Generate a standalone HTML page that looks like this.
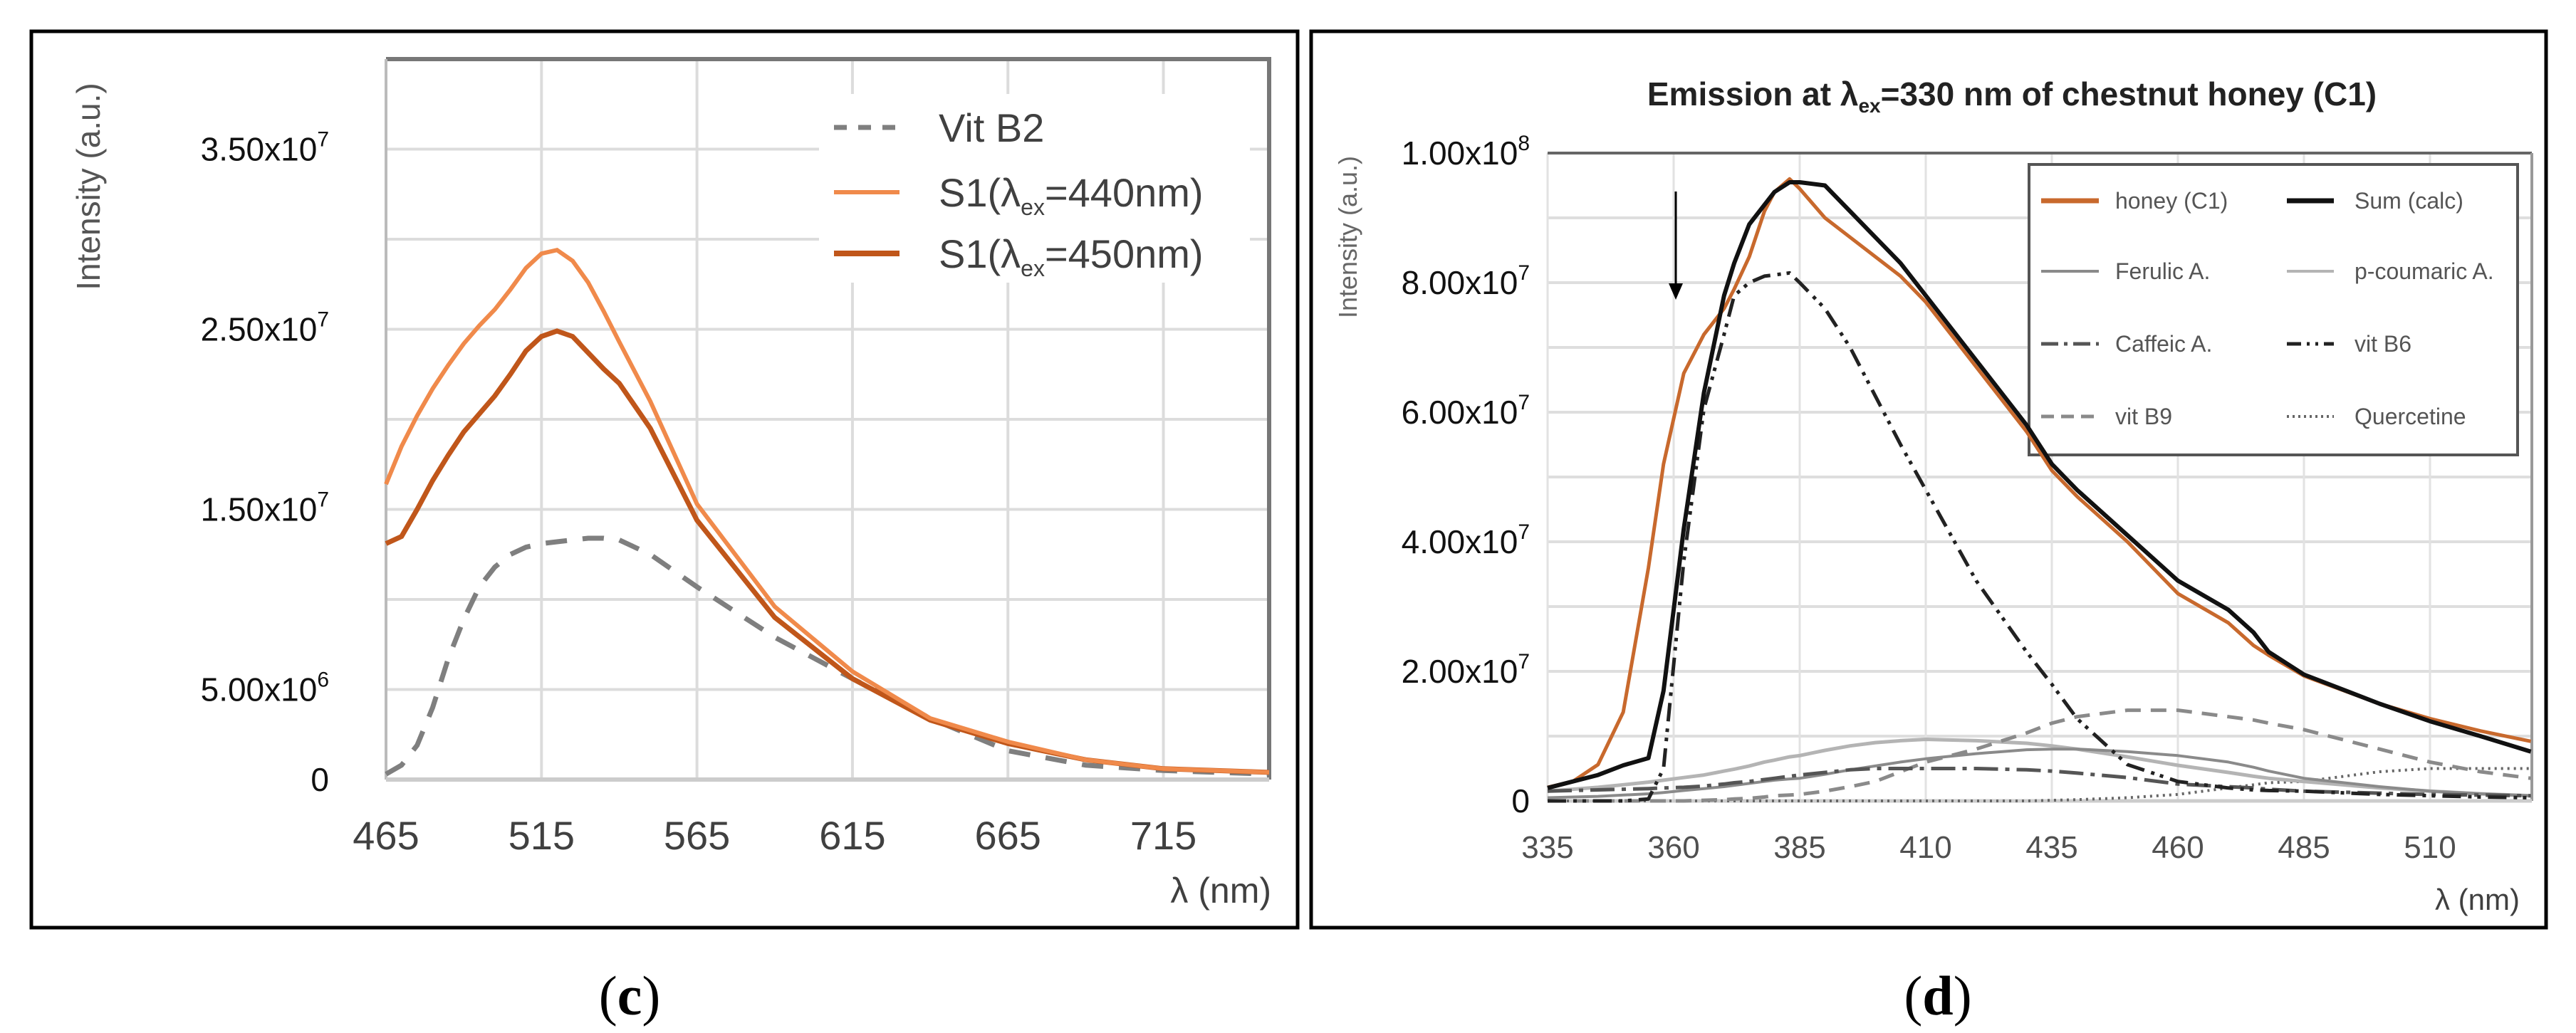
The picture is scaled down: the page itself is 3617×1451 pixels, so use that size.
<!DOCTYPE html>
<html><head><meta charset="utf-8"><style>
html,body{margin:0;padding:0;background:#fff}
svg{display:block}
text{font-family:"Liberation Sans Narrow","Liberation Sans",sans-serif}
</style></head><body>
<svg id="fig" xmlns="http://www.w3.org/2000/svg" width="3617" height="1451" viewBox="0 0 3617 1451">
<rect width="3617" height="1451" fill="#fff"/>
<rect x="44" y="44" width="1778" height="1259" fill="none" stroke="#000" stroke-width="5"/>
<rect x="1841" y="44" width="1734" height="1259" fill="none" stroke="#000" stroke-width="5"/>
<g id="gc"></g>
<g id="gd"></g>
<text x="884" y="1425" font-family="Liberation Serif" font-size="78" text-anchor="middle" style="font-family:'Liberation Serif',serif">(<tspan font-weight="bold">c</tspan>)</text>
<text x="2721" y="1425" font-size="78" text-anchor="middle" style="font-family:'Liberation Serif',serif">(<tspan font-weight="bold">d</tspan>)</text>
</svg>
<script>
// ---------- Chart C data ----------
const cX = [465,470,475,480,485,490,495,500,505,510,515,520,525,530,535,540,550,565,590,615,640,665,690,715,749];
const cS440 = [1.64e7,1.85e7,2.02e7,2.17e7,2.3e7,2.42e7,2.52e7,2.61e7,2.72e7,2.84e7,2.92e7,2.94e7,2.88e7,2.76e7,2.6e7,2.43e7,2.1e7,1.53e7,9.6e6,6.0e6,3.4e6,2.1e6,1.1e6,6e5,4e5];
const cS450 = [1.31e7,1.35e7,1.5e7,1.66e7,1.8e7,1.93e7,2.03e7,2.13e7,2.25e7,2.38e7,2.46e7,2.49e7,2.46e7,2.37e7,2.28e7,2.2e7,1.95e7,1.44e7,9.0e6,5.6e6,3.3e6,2.0e6,1.1e6,6e5,4e5];
const cB2 = [3e5,8e5,1.9e6,4e6,6.7e6,8.9e6,1.07e7,1.18e7,1.25e7,1.29e7,1.31e7,1.32e7,1.33e7,1.34e7,1.34e7,1.33e7,1.25e7,1.07e7,7.9e6,5.6e6,3.4e6,1.6e6,8e5,5e5,3e5];
const cYTicks = [0,5e6,1.5e7,2.5e7,3.5e7];
const cYLabels = ["0","5.00x10|6","1.50x10|7","2.50x10|7","3.50x10|7"];
const cXTicks = [465,515,565,615,665,715];
// ---------- Chart D data ----------
const dX = [335,340,345,350,355,358,362,366,370,372,375,378,380,383,385,390,395,400,405,410,420,430,435,440,450,460,470,475,478,485,500,510,520,530];
const dHoney = [2.1e6,3e6,5.6e6,1.37e7,3.6e7,5.2e7,6.6e7,7.2e7,7.6e7,7.9e7,8.4e7,9.1e7,9.4e7,9.6e7,9.45e7,9.0e7,8.7e7,8.4e7,8.1e7,7.7e7,6.7e7,5.7e7,5.1e7,4.7e7,4.0e7,3.2e7,2.75e7,2.4e7,2.25e7,1.93e7,1.5e7,1.27e7,1.08e7,9.2e6];
const dSum = [2e6,3e6,4e6,5.5e6,6.6e6,1.7e7,4.2e7,6.3e7,7.8e7,8.3e7,8.9e7,9.2e7,9.4e7,9.55e7,9.55e7,9.5e7,9.1e7,8.7e7,8.3e7,7.8e7,6.8e7,5.8e7,5.2e7,4.8e7,4.1e7,3.4e7,2.95e7,2.6e7,2.3e7,1.95e7,1.5e7,1.23e7,1.0e7,7.6e6];
const dB6 = [0,0,0,0,3e5,5e6,3.7e7,6.05e7,7.2e7,7.8e7,8.0e7,8.1e7,8.12e7,8.15e7,8.0e7,7.6e7,7.0e7,6.25e7,5.5e7,4.8e7,3.4e7,2.3e7,1.8e7,1.27e7,5.6e6,3e6,2e6,1.7e6,1.6e6,1.5e6,1e6,8e5,6e5,5e5];
const dCaffeic = [1.5e6,1.6e6,1.7e6,1.8e6,1.9e6,2e6,2.1e6,2.3e6,2.6e6,2.8e6,3e6,3.3e6,3.5e6,3.8e6,4e6,4.4e6,4.8e6,5e6,5e6,5e6,5e6,4.8e6,4.6e6,4.3e6,3.6e6,2.6e6,2.2e6,2e6,1.8e6,1.5e6,1.2e6,1e6,9e5,8e5];
const dFerulic = [5e5,6e5,7e5,9e5,1.1e6,1.3e6,1.6e6,1.9e6,2.2e6,2.4e6,2.7e6,3e6,3.2e6,3.4e6,3.5e6,4.1e6,4.8e6,5.4e6,6e6,6.5e6,7.3e6,7.9e6,8e6,8e6,7.6e6,7e6,6e6,5.2e6,4.6e6,3.5e6,2.2e6,1.5e6,1.1e6,8e5];
const dCoumaric = [1.5e6,1.8e6,2.1e6,2.5e6,2.9e6,3.2e6,3.6e6,4e6,4.6e6,4.9e6,5.4e6,6e6,6.3e6,6.8e6,7e6,7.8e6,8.5e6,9e6,9.3e6,9.5e6,9.3e6,8.9e6,8.5e6,8e6,6.8e6,5.5e6,4.4e6,3.8e6,3.5e6,3e6,2e6,1.5e6,1.1e6,8e5];
const dB9 = [0,0,0,0,0,0,0,1e5,2e5,3e5,4e5,6e5,8e5,9e5,1e6,1.5e6,2.2e6,3e6,4.5e6,6e6,8e6,1.05e7,1.2e7,1.3e7,1.4e7,1.4e7,1.3e7,1.25e7,1.2e7,1.1e7,8e6,6e6,4.5e6,3.5e6];
const dQuer = [0,0,0,0,0,0,0,0,0,0,0,0,0,0,0,0,0,0,0,0,0,0,1e5,2e5,5e5,1e6,2e6,2.5e6,2.8e6,3e6,4.5e6,5e6,5e6,5e6];
const dYTicks = [0,2e7,4e7,6e7,8e7,1e8];
const dYLabels = ["0","2.00x10|7","4.00x10|7","6.00x10|7","8.00x10|7","1.00x10|8"];
const dXTicks = [335,360,385,410,435,460,485,510];

const NS="http://www.w3.org/2000/svg";
function mk(parent,tag,attrs){const e=document.createElementNS(NS,tag);for(const k in attrs)e.setAttribute(k,attrs[k]);parent.appendChild(e);return e;}
function path(xs,ys,xf,yf){return xs.map((x,i)=>(i?'L':'M')+xf(x).toFixed(1)+' '+yf(ys[i]).toFixed(1)).join(' ');}

// ===== Chart C =====
const gc=document.getElementById('gc');
const cx=v=>542+(v-465)*(1240/284);
const cy=v=>1095-v/4e7*1012;
for(let v=0;v<=4e7;v+=5e6){const l=mk(gc,'line',{x1:542,x2:1782,y1:cy(v),y2:cy(v),stroke:'#dcdcdc','stroke-width':4});

}
cXTicks.forEach(t=>{const l=mk(gc,'line',{x1:cx(t),x2:cx(t),y1:83,y2:1095,stroke:'#dcdcdc','stroke-width':4});

});
mk(gc,'path',{d:'M542 83 H1782 V1095',fill:'none',stroke:'#777','stroke-width':6});
mk(gc,'line',{x1:542,x2:542,y1:83,y2:1095,stroke:'#bbb','stroke-width':4});
mk(gc,'line',{x1:542,x2:1782,y1:1095,y2:1095,stroke:'#ccc','stroke-width':6});
// legend background
mk(gc,'rect',{x:1150,y:132,width:605,height:265,fill:'#fff'});
// series
let p;
p=mk(gc,'path',{d:path(cX,cB2,cx,cy),fill:'none',stroke:'#7f7f7f','stroke-width':7,'stroke-dasharray':'30 22'});


p=mk(gc,'path',{d:path(cX,cS450,cx,cy),fill:'none',stroke:'#c0561a','stroke-width':7});


p=mk(gc,'path',{d:path(cX,cS440,cx,cy),fill:'none',stroke:'#f08a4b','stroke-width':6});


// y labels
cYTicks.forEach((t,i)=>{const parts=cYLabels[i].split('|');const tx=mk(gc,'text',{x:462,y:cy(t)+16,'font-size':46,'text-anchor':'end',fill:'#111'});


tx.textContent=parts[0];if(parts[1]){const s=mk(tx,'tspan',{dy:-20,'font-size':30});s.textContent=parts[1];}});
cXTicks.forEach(t=>{const tx=mk(gc,'text',{x:cx(t),y:1193,'font-size':56,'text-anchor':'middle',fill:'#404040'});


tx.textContent=t;});
let tt=mk(gc,'text',{x:1785,y:1268,'font-size':50,'text-anchor':'end',fill:'#404040'});


tt.textContent='λ (nm)';
tt=mk(gc,'text',{x:0,y:0,'font-size':46,'text-anchor':'middle',fill:'#555',transform:'translate(140,262) rotate(-90)'});


tt.textContent='Intensity (a.u.)';
// legend
const cLeg=[['Vit B2','#7f7f7f','18 16',7,179,null],['S1(λ','#f08a4b','',6,270,'=440nm)'],['S1(λ','#c0561a','',8,356,'=450nm)']];
cLeg.forEach(e=>{const g=mk(gc,'g',{});


mk(g,'line',{x1:1171,x2:1263,y1:e[4],y2:e[4],stroke:e[1],'stroke-width':e[3],'stroke-dasharray':e[2]});
const t=mk(g,'text',{x:1318,y:e[4]+20,'font-size':56,fill:'#404040'});t.textContent=e[0];
if(e[5]){const s=mk(t,'tspan',{dy:12,'font-size':32});s.textContent='ex';const s2=mk(t,'tspan',{dy:-12});s2.textContent=e[5];}});

// ===== Chart D =====
const gd=document.getElementById('gd');
const dx=v=>2173+(v-335)*(177/25);
const dy=v=>1125-v/1e8*910;
for(let v=0;v<=1e8;v+=1e7){const l=mk(gd,'line',{x1:2173,x2:3555,y1:dy(v),y2:dy(v),stroke:'#dedede','stroke-width':4});

}
dXTicks.forEach(t=>{const l=mk(gd,'line',{x1:dx(t),x2:dx(t),y1:215,y2:1125,stroke:'#e2e2e2','stroke-width':3});

});
mk(gd,'line',{x1:2173,x2:3555,y1:215,y2:215,stroke:'#666','stroke-width':4});
mk(gd,'line',{x1:3555,x2:3555,y1:215,y2:1125,stroke:'#999','stroke-width':4});
mk(gd,'line',{x1:2173,x2:3555,y1:1125,y2:1125,stroke:'#ccc','stroke-width':5});
// legend box
const lb=mk(gd,'rect',{x:2849,y:231,width:686,height:408,fill:'#fff',stroke:'#555','stroke-width':4});


const dSeries=[
 [dQuer,'#666','3 6',4,'series-quercetine'],
 [dCoumaric,'#b4b4b4','',5,'series-p-coumaric'],
 [dFerulic,'#8a8a8a','',4,'series-ferulic'],
 [dB9,'#8a8a8a','22 14',5,'series-vit-b9'],
 [dCaffeic,'#555','34 10 6 10',5,'series-caffeic'],
 [dB6,'#222','26 10 5 8 5 10',5,'series-vit-b6'],
 [dHoney,'#c8692d','',5,'series-honey'],
 [dSum,'#111','',6,'series-sum']];
dSeries.forEach(s=>{const p=mk(gd,'path',{d:path(dX,s[0],dx,dy),fill:'none',stroke:s[1],'stroke-width':s[3],'stroke-dasharray':s[2],'stroke-linejoin':'round'});

});
dYTicks.forEach((t,i)=>{const parts=dYLabels[i].split('|');const tx=mk(gd,'text',{x:2148,y:dy(t)+16,'font-size':46,'text-anchor':'end',fill:'#111'});


tx.textContent=parts[0];if(parts[1]){const s=mk(tx,'tspan',{dy:-20,'font-size':30});s.textContent=parts[1];}});
dXTicks.forEach(t=>{const tx=mk(gd,'text',{x:dx(t),y:1205,'font-size':44,'text-anchor':'middle',fill:'#505050'});


tx.textContent=t;});
tt=mk(gd,'text',{x:3538,y:1278,'font-size':42,'text-anchor':'end',fill:'#404040'});


tt.textContent='λ (nm)';
tt=mk(gd,'text',{x:0,y:0,'font-size':36,'text-anchor':'middle',fill:'#666',transform:'translate(1905,333) rotate(-90)'});


tt.textContent='Intensity (a.u.)';
tt=mk(gd,'text',{x:2825,y:148,'font-size':46,'font-weight':'bold','text-anchor':'middle',fill:'#222'});


tt.textContent='Emission at λ';
{const s=mk(tt,'tspan',{dy:10,'font-size':28});s.textContent='ex';const s2=mk(tt,'tspan',{dy:-10});s2.textContent='=330 nm of chestnut honey (C1)';}
// arrow
const ar=mk(gd,'g',{});


mk(ar,'line',{x1:2353,x2:2353,y1:269,y2:405,stroke:'#000','stroke-width':3});
mk(ar,'path',{d:'M2343 398 L2363 398 L2353 421 Z',fill:'#000'});
// legend entries
const dLeg=[
 ['honey (C1)','#c8692d','',7,2866,2947,2970,282],['Sum (calc)','#111','',7,3211,3277,3306,282],
 ['Ferulic A.','#8a8a8a','',4,2866,2947,2970,381],['p-coumaric A.','#b4b4b4','',4,3211,3277,3306,381],
 ['Caffeic A.','#555','24 8 5 8',5,2866,2947,2970,483],['vit B6','#222','20 8 4 8 4 8',5,3211,3277,3306,483],
 ['vit B9','#8a8a8a','18 10',5,2866,2947,2970,585],['Quercetine','#666','3 5',4,3211,3277,3306,585]];
dLeg.forEach(e=>{const g=mk(gd,'g',{});


mk(g,'line',{x1:e[4],x2:e[5],y1:e[7],y2:e[7],stroke:e[1],'stroke-width':e[3],'stroke-dasharray':e[2]});
const t=mk(g,'text',{x:e[6],y:e[7]+11,'font-size':32,fill:'#555'});t.textContent=e[0];});
</script>
</body></html>
